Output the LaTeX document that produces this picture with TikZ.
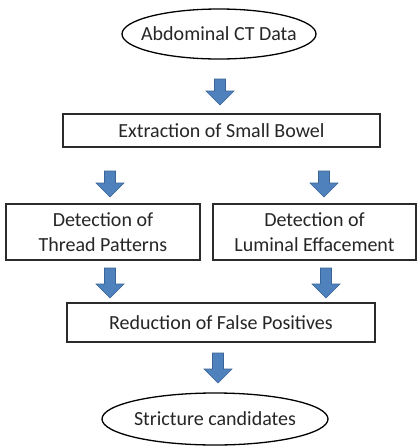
\documentclass[tikz,border=0pt]{standalone}
\usepackage{fontspec}
\setmainfont{Carlito}
\usetikzlibrary{shapes.geometric}
\definecolor{arrowfill}{HTML}{4F81BD}
\definecolor{arrowedge}{HTML}{3A6596}
\definecolor{boxedge}{HTML}{2B2B2B}
\definecolor{label}{HTML}{262626}
\tikzset{
  stepbox/.style={draw=boxedge, line width=1.3pt, fill=white, align=center,
    inner sep=0pt, text=label, font=\fontsize{20}{25}\selectfont},
  terminal/.style={ellipse, draw=black, line width=1.3pt, fill=white,
    inner xsep=-60pt, inner ysep=-30pt, text=label, font=\fontsize{20}{25}\selectfont},
  blockarrow/.style={fill=arrowfill, draw=arrowedge, line width=0.6pt, line join=miter}
}
% block arrow pointing down: centre x, top y, tip y
\newcommand\flowarrow[3]{%
  \draw[blockarrow] (#1-5.5,#2) -- (#1+5.5,#2) -- (#1+5.5,#3-14) -- (#1+14,#3-14)
    -- (#1,#3) -- (#1-14,#3-14) -- (#1-5.5,#3-14) -- cycle;}
\begin{document}
\begin{tikzpicture}[x=1pt,y=-1pt]
  \useasboundingbox (0,0) rectangle (420,448);
  \fill[white] (0,0) rectangle (420,448);

  \node[terminal, minimum width=194pt, minimum height=50pt] (ct) at (219,34) {Abdominal CT Data};
  \node[stepbox, minimum width=317pt, minimum height=33pt] (extract) at (221.5,130.5) {Extraction of Small Bowel};
  \node[stepbox, minimum width=194pt, minimum height=56pt] (thread) at (103,232) {Detection of\\Thread Patterns};
  \node[stepbox, minimum width=203pt, minimum height=56pt] (lumen) at (314.5,232) {Detection of\\Luminal Effacement};
  \node[stepbox, minimum width=308pt, minimum height=39pt] (reduce) at (221,322.5) {Reduction of False Positives};
  \node[terminal, minimum width=226pt, minimum height=52pt] (cand) at (215,419) {Stricture candidates};

  % connectors between the stages
  \flowarrow{220}{79}{105}
  \flowarrow{110}{171}{197}
  \flowarrow{324}{171}{197}
  \flowarrow{110}{268}{298}
  \flowarrow{326}{268}{298}
  \flowarrow{218}{353}{383}
\end{tikzpicture}
\end{document}
